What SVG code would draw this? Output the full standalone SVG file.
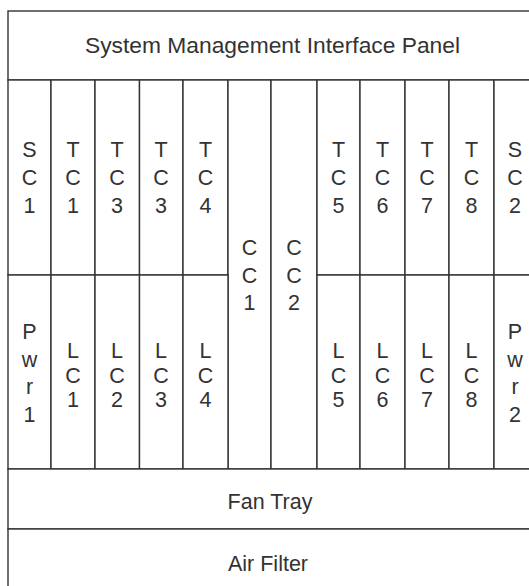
<svg xmlns="http://www.w3.org/2000/svg" width="529" height="586" viewBox="0 0 529 586">
<style>
  .box { fill: #ffffff; stroke: #333333; stroke-width: 1.4; }
  .lbl { font-family: "Liberation Sans", Arial, sans-serif; font-size: 21.5px; fill: #333333; text-anchor: middle; }
  .big { font-size: 22.8px; }
</style>
<rect x="0" y="0" width="529" height="586" fill="#ffffff"/>
<g id="smip"><rect class="box" x="8" y="11" width="528" height="69"/><text class="lbl big" x="272.5" y="53">System Management Interface Panel</text></g>
<g id="sc1"><rect class="box" x="8" y="80" width="43" height="195"/><text class="lbl" y="157"><tspan x="29.5">S</tspan><tspan x="29.5" dy="28">C</tspan><tspan x="29.5" dy="28">1</tspan></text></g>
<g id="tc1"><rect class="box" x="51" y="80" width="44" height="195"/><text class="lbl" y="157"><tspan x="73">T</tspan><tspan x="73" dy="28">C</tspan><tspan x="73" dy="28">1</tspan></text></g>
<g id="tc3a"><rect class="box" x="95" y="80" width="44.5" height="195"/><text class="lbl" y="157"><tspan x="117">T</tspan><tspan x="117" dy="28">C</tspan><tspan x="117" dy="28">3</tspan></text></g>
<g id="tc3b"><rect class="box" x="139.5" y="80" width="43.5" height="195"/><text class="lbl" y="157"><tspan x="161">T</tspan><tspan x="161" dy="28">C</tspan><tspan x="161" dy="28">3</tspan></text></g>
<g id="tc4"><rect class="box" x="183" y="80" width="45" height="195"/><text class="lbl" y="157"><tspan x="205.5">T</tspan><tspan x="205.5" dy="28">C</tspan><tspan x="205.5" dy="28">4</tspan></text></g>
<g id="cc1"><rect class="box" x="228" y="80" width="43" height="389"/><text class="lbl" y="255"><tspan x="249.5">C</tspan><tspan x="249.5" dy="27.5">C</tspan><tspan x="249.5" dy="27.5">1</tspan></text></g>
<g id="cc2"><rect class="box" x="271" y="80" width="46" height="389"/><text class="lbl" y="255"><tspan x="294">C</tspan><tspan x="294" dy="27.5">C</tspan><tspan x="294" dy="27.5">2</tspan></text></g>
<g id="tc5"><rect class="box" x="317" y="80" width="43" height="195"/><text class="lbl" y="157"><tspan x="338.5">T</tspan><tspan x="338.5" dy="28">C</tspan><tspan x="338.5" dy="28">5</tspan></text></g>
<g id="tc6"><rect class="box" x="360" y="80" width="45" height="195"/><text class="lbl" y="157"><tspan x="382.5">T</tspan><tspan x="382.5" dy="28">C</tspan><tspan x="382.5" dy="28">6</tspan></text></g>
<g id="tc7"><rect class="box" x="405" y="80" width="44" height="195"/><text class="lbl" y="157"><tspan x="427">T</tspan><tspan x="427" dy="28">C</tspan><tspan x="427" dy="28">7</tspan></text></g>
<g id="tc8"><rect class="box" x="449" y="80" width="45" height="195"/><text class="lbl" y="157"><tspan x="471.5">T</tspan><tspan x="471.5" dy="28">C</tspan><tspan x="471.5" dy="28">8</tspan></text></g>
<g id="sc2"><rect class="box" x="494" y="80" width="42" height="195"/><text class="lbl" y="157"><tspan x="515">S</tspan><tspan x="515" dy="28">C</tspan><tspan x="515" dy="28">2</tspan></text></g>
<g id="pwr1"><rect class="box" x="8" y="275" width="43" height="194"/><text class="lbl" y="339"><tspan x="29.5">P</tspan><tspan x="29.5" dy="27.5">w</tspan><tspan x="29.5" dy="27.5">r</tspan><tspan x="29.5" dy="27.5">1</tspan></text></g>
<g id="lc1"><rect class="box" x="51" y="275" width="44" height="194"/><text class="lbl" y="358"><tspan x="73">L</tspan><tspan x="73" dy="24.5">C</tspan><tspan x="73" dy="24.5">1</tspan></text></g>
<g id="lc2"><rect class="box" x="95" y="275" width="44.5" height="194"/><text class="lbl" y="358"><tspan x="117">L</tspan><tspan x="117" dy="24.5">C</tspan><tspan x="117" dy="24.5">2</tspan></text></g>
<g id="lc3"><rect class="box" x="139.5" y="275" width="43.5" height="194"/><text class="lbl" y="358"><tspan x="161">L</tspan><tspan x="161" dy="24.5">C</tspan><tspan x="161" dy="24.5">3</tspan></text></g>
<g id="lc4"><rect class="box" x="183" y="275" width="45" height="194"/><text class="lbl" y="358"><tspan x="205.5">L</tspan><tspan x="205.5" dy="24.5">C</tspan><tspan x="205.5" dy="24.5">4</tspan></text></g>
<g id="lc5"><rect class="box" x="317" y="275" width="43" height="194"/><text class="lbl" y="358"><tspan x="338.5">L</tspan><tspan x="338.5" dy="24.5">C</tspan><tspan x="338.5" dy="24.5">5</tspan></text></g>
<g id="lc6"><rect class="box" x="360" y="275" width="45" height="194"/><text class="lbl" y="358"><tspan x="382.5">L</tspan><tspan x="382.5" dy="24.5">C</tspan><tspan x="382.5" dy="24.5">6</tspan></text></g>
<g id="lc7"><rect class="box" x="405" y="275" width="44" height="194"/><text class="lbl" y="358"><tspan x="427">L</tspan><tspan x="427" dy="24.5">C</tspan><tspan x="427" dy="24.5">7</tspan></text></g>
<g id="lc8"><rect class="box" x="449" y="275" width="45" height="194"/><text class="lbl" y="358"><tspan x="471.5">L</tspan><tspan x="471.5" dy="24.5">C</tspan><tspan x="471.5" dy="24.5">8</tspan></text></g>
<g id="pwr2"><rect class="box" x="494" y="275" width="42" height="194"/><text class="lbl" y="339"><tspan x="515">P</tspan><tspan x="515" dy="27.5">w</tspan><tspan x="515" dy="27.5">r</tspan><tspan x="515" dy="27.5">2</tspan></text></g>
<g id="fantray"><rect class="box" x="8" y="469" width="528" height="60"/><text class="lbl" x="270" y="509">Fan Tray</text></g>
<g id="airfilter"><rect class="box" x="8" y="529" width="528" height="70"/><text class="lbl" x="268" y="571">Air Filter</text></g>
<g id="connectors"></g>
</svg>
